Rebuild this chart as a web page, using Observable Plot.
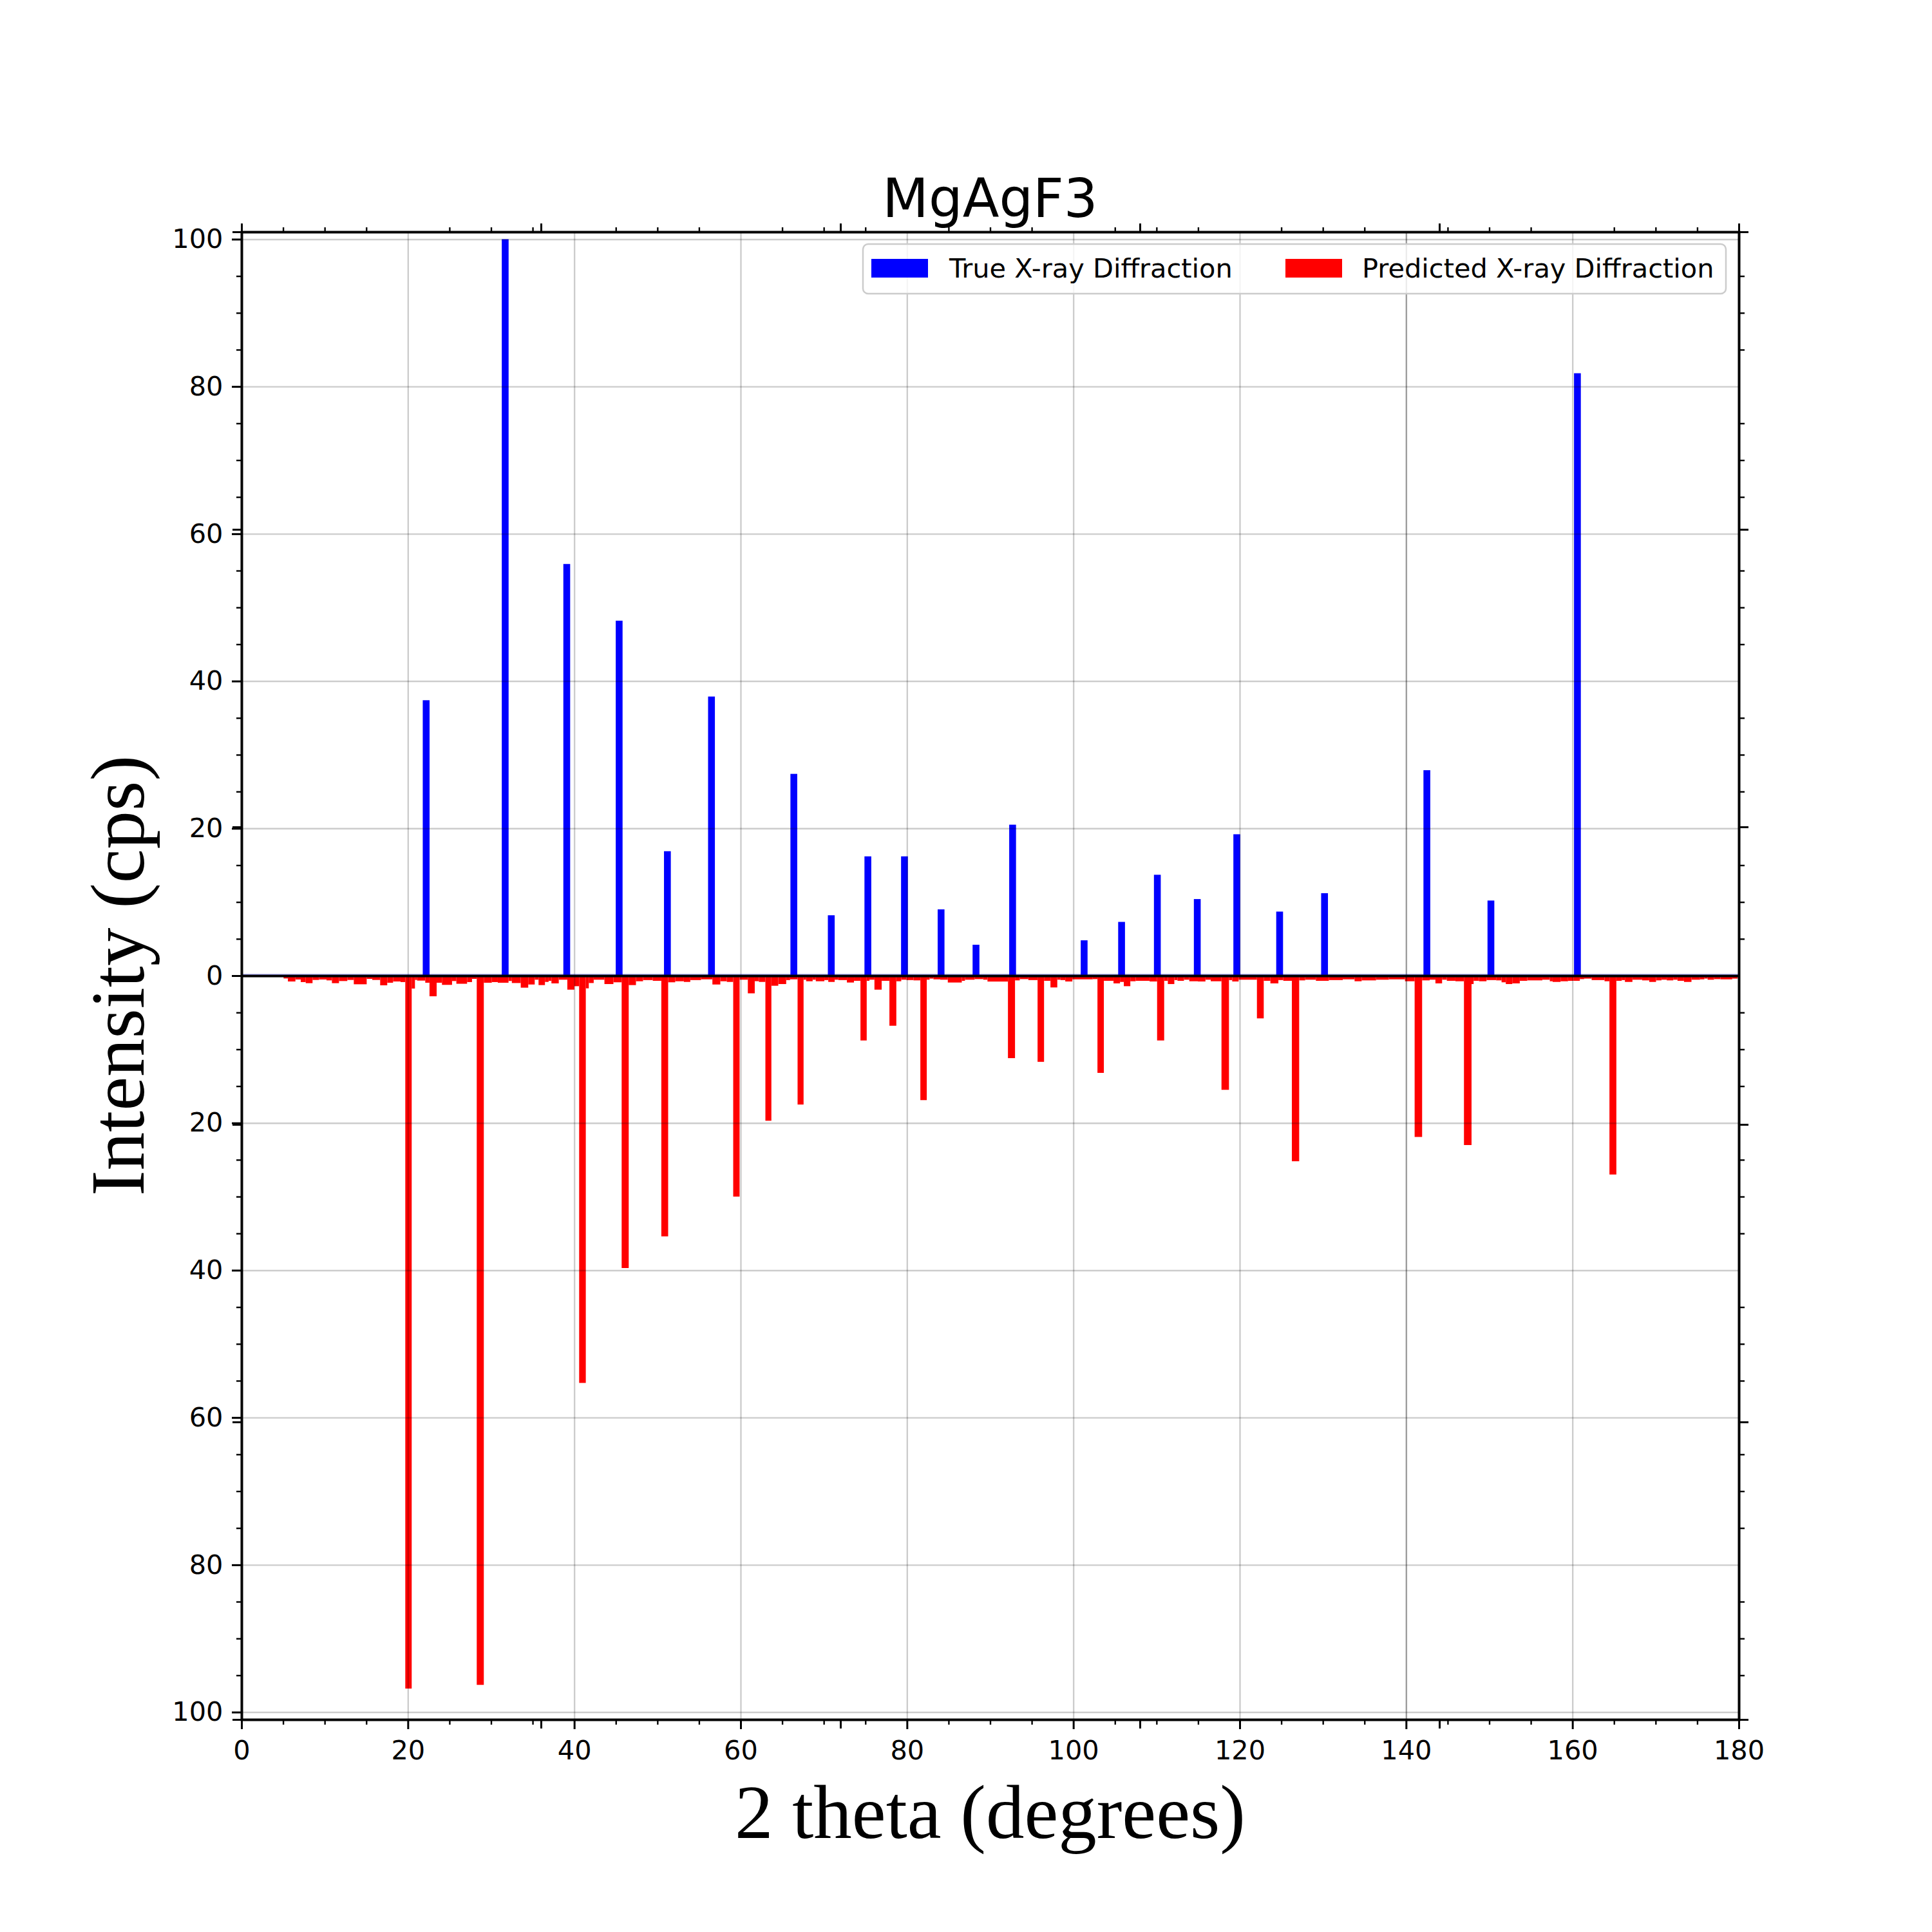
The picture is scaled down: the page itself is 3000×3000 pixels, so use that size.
<!DOCTYPE html>
<html><head><meta charset="utf-8">
<script src="https://cdn.jsdelivr.net/npm/d3@7"></script>
<script src="https://cdn.jsdelivr.net/npm/@observablehq/plot@0.6"></script>
<style>body{margin:0;background:#fff;} svg{display:block}</style>
</head><body><div id="chart"></div>
<script>
// ---- data ----
const titleText = "MgAgF3";
const xLabel = "2 theta (degrees)";
const yLabel = "Intensity (cps)";
const seriesNames = ["True X-ray Diffraction", "Predicted X-ray Diffraction"];

// True XRD peaks (2theta, intensity)
const trueX = [22.2, 31.7, 39.1, 45.4, 51.2, 56.5, 66.4, 70.9, 75.3, 79.7, 84.1, 88.3, 92.7, 101.3, 105.8, 110.1, 114.9, 119.65, 124.8, 130.2, 142.5, 150.2, 160.6];
const trueY = [37.4, 100, 55.9, 48.2, 16.9, 37.9, 27.4, 8.2, 16.2, 16.2, 9.0, 4.2, 20.5, 4.8, 7.3, 13.7, 10.4, 19.2, 8.7, 11.2, 27.9, 10.2, 81.8];

// Predicted XRD: segment start (2theta) and intensity (drawn downward)
const predStart = [5.06,5.58,6.48,7.12,7.72,8.54,9.32,10.22,10.87,11.72,12.72,13.5,15.05,15.72,16.67,17.52,18.22,19.12,19.69,20.46,
20.85,21.11,22.09,22.6,23.46,24.1,25.31,25.83,27.12,27.71,28.28,29.13,30.09,30.81,32.1,32.5,33.57,34.47,35.25,35.71,
36.48,36.92,37.26,38.14,39.17,40.02,40.59,41.39,41.75,42.34,43.63,44.71,45.7,46.55,47.42,48.27,49.44,50.47,51.29,52.14,
53.18,53.95,55.24,56.61,57.56,58.34,59.11,59.88,60.87,61.7,62.2,62.98,63.7,64.53,65.48,65.95,66.85,67.57,67.88,68.66,
69.04,70.07,70.54,71.31,71.75,72.78,73.63,74.41,75.16,75.49,76.09,76.96,77.89,78.72,79.31,79.93,80.78,81.61,82.38,82.72,
83.18,84.0,84.91,86.59,86.97,88.13,89.17,89.68,92.14,92.99,93.56,94.59,95.7,96.48,97.25,98.07,98.46,99.03,99.88,102.33,
102.9,103.67,104.83,105.61,106.07,106.85,107.49,109.17,110.07,110.92,111.36,112.14,112.52,113.3,113.94,114.97,115.88,116.52,117.81,118.71,
119.1,119.87,122.07,122.89,123.69,124.65,125.24,126.27,127.15,127.87,129.16,130.71,132.39,133.81,134.66,136.39,137.93,139.87,141.03,141.93,
142.84,143.53,144.33,144.9,145.93,146.96,147.87,148.12,148.77,149.67,150.83,151.48,151.99,152.77,153.67,154.57,156.38,157.28,157.62,158.57,
159.47,160.12,160.89,161.41,162.31,163.86,164.45,165.28,165.92,166.31,167.21,168.38,169.23,170.05,170.7,171.34,172.12,172.63,173.41,174.31,
175.34,175.86,176.25,177.02,177.79,179.21];
const predEnd = 179.86;
const predVal = [0.38,0.79,0.52,0.87,1.02,0.58,0.52,0.64,1.02,0.73,0.58,1.17,0.44,0.58,1.31,0.96,0.79,0.87,96.8,1.75,
0.58,0.67,0.96,2.8,0.96,1.25,0.73,1.1,0.87,0.44,96.3,0.96,0.87,0.96,0.72,1.0,1.63,1.2,0.55,1.28,
0.85,0.7,1.05,0.55,1.9,1.43,55.3,1.72,1.0,0.55,1.14,0.9,39.7,1.28,0.76,0.6,0.7,35.4,0.9,0.76,
0.85,0.6,0.5,1.2,0.76,0.85,30.0,0.55,2.4,0.75,0.85,19.7,1.37,1.14,0.6,0.5,17.5,0.55,0.76,0.55,
0.76,0.6,0.85,0.55,0.6,0.93,0.7,8.8,0.7,0.55,1.9,0.7,6.8,0.76,0.55,0.6,0.64,16.9,0.55,0.4,
0.5,0.55,0.93,0.7,0.55,0.47,0.55,0.8,11.2,0.64,0.47,0.6,11.7,0.7,1.6,0.55,0.6,0.79,0.5,0.47,
13.2,0.7,1.05,0.85,1.43,0.76,0.7,0.79,8.8,0.7,1.14,0.6,0.7,0.55,0.76,0.79,0.55,0.76,15.5,0.6,
0.79,0.55,5.8,0.7,1.05,0.6,0.7,25.2,0.64,0.55,0.7,0.6,0.5,0.76,0.64,0.55,0.5,0.76,21.9,0.64,
0.55,1.05,0.55,0.7,0.76,23.0,1.14,0.7,0.76,0.6,0.64,0.9,1.14,1.05,0.7,0.64,0.55,0.76,0.85,0.76,
0.7,0.7,0.47,0.4,0.6,0.76,27.0,0.7,0.6,0.85,0.55,0.64,0.85,0.64,0.55,0.64,0.55,0.7,0.85,0.55,
0.5,0.4,0.55,0.47,0.5,0.4];

// ticks
const xMajor = [0,20,40,60,80,100,120,140,160,180];
const xGrid = [20,40,60,80,100,120,160];
const xGridDark = [140];
const xMinor = [5,10,15,25,30,35,45,50,55,65,70,75,85,90,95,105,110,115,125,130,135,145,150,155,165,170,175];
const yMajor = [-100,-80,-60,-40,-20,0,20,40,60,80,100];
const yGrid = [-100,-80,-60,-40,-20,20,40,60,80,100];
const yMinor = [-95,-90,-85,-75,-70,-65,-55,-50,-45,-35,-30,-25,-15,-10,-5,5,10,15,25,30,35,45,50,55,65,70,75,85,90,95];
const twinX = [0,36,72,108,144,180];
const twinY = [-101,-60.6,-20.2,20.2,60.6,101];

// ---- build ----
const trueTable = trueX.map((x,i)=>({x, y: trueY[i]}));
const predTable = predStart.map((s,i)=>({x1:s, x2: i+1<predStart.length ? predStart[i+1] : predEnd, v: predVal[i]}));

const W=3000, H=3000, mL=375, mR=300, mT=360, mB=330;
const gridStyle = {stroke:"#000", strokeOpacity:0.2, strokeWidth:2.4};
const major = {tickSize:15, strokeWidth:3, label:null};
const minor = {tickSize:8, strokeWidth:2.4, label:null, tickFormat:()=>""};
const twin = {tickSize:14, strokeWidth:3, label:null, tickFormat:()=>""};

const plot = Plot.plot({
  width: W, height: H, marginLeft: mL, marginRight: mR, marginTop: mT, marginBottom: mB,
  x: {domain:[0,180]}, y: {domain:[-101,101]},
  style: {fontFamily:"DejaVu Sans", background:"white", color:"black", overflow:"visible"},
  marks: [
    Plot.rect(predTable, {x1:"x1", x2:"x2", y1: d=>0, y2: d=>-d.v, fill:"red"}),
    Plot.rect(trueTable, {x1: d=>d.x-0.41, x2: d=>d.x+0.41, y1: d=>0, y2: d=>d.y, fill:"blue"}),
    Plot.gridX(xGrid, gridStyle),
    Plot.gridX(xGridDark, {...gridStyle, strokeOpacity:0.38}),
    Plot.gridY(yGrid, gridStyle),
    Plot.ruleY([0], {stroke:"blue", strokeOpacity:0.35, strokeWidth:1.5, dy:-2.5}),
    Plot.ruleY([0], {stroke:"black", strokeWidth:4}),
    Plot.frame({stroke:"black", strokeWidth:4}),
    Plot.axisX(xMajor, {anchor:"bottom", ...major, tickPadding:17, fontSize:41.5}),
    Plot.axisX(xMinor, {anchor:"bottom", ...minor}),
    Plot.axisX(xMinor, {anchor:"top", ...minor}),
    Plot.axisX(twinX, {anchor:"bottom", ...twin}),
    Plot.axisX(twinX, {anchor:"top", ...twin}),
    Plot.axisY(yMajor, {anchor:"left", ...major, tickPadding:14, fontSize:41.5, tickFormat: d=>String(Math.abs(d))}),
    Plot.axisY(yMinor, {anchor:"left", ...minor}),
    Plot.axisY(yMinor, {anchor:"right", ...minor}),
    Plot.axisY(twinY, {anchor:"left", ...twin}),
    Plot.axisY(twinY, {anchor:"right", ...twin})
  ]
});

const svg = d3.select(plot);
const cx = mL + (W - mL - mR)/2;
svg.append("text").attr("x", cx).attr("y", 337).attr("text-anchor","middle")
  .attr("font-family","DejaVu Sans").attr("font-size",83).attr("fill","black").text(titleText);
svg.append("text").attr("transform","translate(223,1515) rotate(-90)").attr("text-anchor","middle")
  .attr("font-family","Liberation Serif").attr("font-size",119).attr("fill","black").text(yLabel);
svg.append("text").attr("x", cx).attr("y", 2854).attr("text-anchor","middle")
  .attr("font-family","Liberation Serif").attr("font-size",119).attr("fill","black").text(xLabel);

// legend
const lg = svg.append("g");
lg.append("rect").attr("x",1340).attr("y",379).attr("width",1340).attr("height",77).attr("rx",8)
  .attr("fill","white").attr("fill-opacity",0.8).attr("stroke","#cccccc").attr("stroke-width",2.5);
const legendItems = [{name: seriesNames[0], color:"blue", px:1353, tx:1474}, {name: seriesNames[1], color:"red", px:1996, tx:2115}];
legendItems.forEach(it=>{
  lg.append("rect").attr("x",it.px).attr("y",402).attr("width",88).attr("height",29).attr("fill",it.color);
  lg.append("text").attr("x",it.tx).attr("y",431).attr("text-anchor","start").attr("font-family","DejaVu Sans").attr("font-size",41.5)
    .attr("fill","black").text(it.name);
});

document.getElementById("chart").appendChild(plot);
</script>
</body></html>
